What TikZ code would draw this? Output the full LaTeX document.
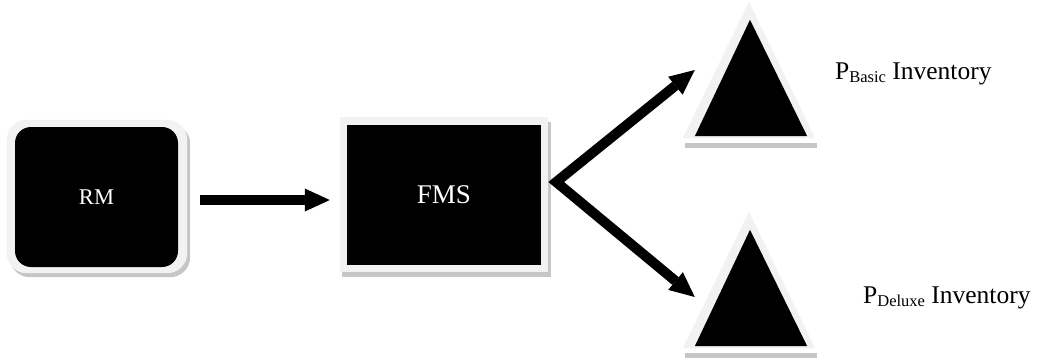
\documentclass[tikz,border=0pt]{standalone}
\usepackage{fontspec}
\setmainfont{Liberation Serif}
\usetikzlibrary{arrows.meta,calc,backgrounds}
\definecolor{lg}{HTML}{F2F2F2}
\definecolor{sh}{HTML}{C6C6C6}
\begin{document}
\begin{tikzpicture}[x=1pt,y=-1pt,
  blackbox/.style={fill=black,text=white,inner sep=0pt},
  frm/.style={fill=lg},
  shd/.style={fill=sh},
  trinode/.style={inner sep=0pt,minimum width=132pt,minimum height=136pt},
  flow/.style={line width=10pt,-{Triangle[length=25pt,width=23pt,line width=0pt]}},
  flowtwo/.style={line width=10pt,line join=miter,{Triangle[length=25pt,width=23pt,line width=0pt]}-{Triangle[length=25pt,width=23pt,line width=0pt]}},
  invtext/.style={anchor=base west,inner sep=0pt,font=\fontsize{25.5}{30}\selectfont}
]
\useasboundingbox (0,0) rectangle (1042,360);

% RM box
\node[blackbox,rounded corners=16pt,minimum width=163pt,minimum height=140pt,font=\fontsize{22.5}{26}\selectfont] (rm) at (96.5,197) {RM};
% FMS box
\node[blackbox,minimum width=194pt,minimum height=140pt,font=\fontsize{27}{30}\selectfont] (fms) at (444,195) {FMS};

\begin{pgfonlayer}{background}
  \fill[shd,rounded corners=20pt] ($(rm.north west)+(-5,-3)$) rectangle ($(rm.south east)+(12,10)$);
  \fill[frm,rounded corners=20pt] ($(rm.north west)+(-8,-7)$) rectangle ($(rm.south east)+(9,6)$);
  \fill[shd] ($(fms.north west)+(-5,-3)$) rectangle ($(fms.south east)+(10,12)$);
  \fill[frm] ($(fms.north west)+(-7,-8)$) rectangle ($(fms.south east)+(7,7)$);
\end{pgfonlayer}

% Triangles
\node[trinode] (tri1) at (749,70) {};
\node[trinode] (tri2) at (749,280) {};
\foreach \t in {tri1,tri2}{
  \fill[shd] ($(\t.south west)+(2,5)$) rectangle ($(\t.south east)+(2,10)$);
  \fill[frm] (\t.north) -- (\t.south east) -- (\t.south west) -- cycle;
  \fill[black] ($(\t.north)+(1,18)$) -- ($(\t.south east)+(-8,-2)$) -- ($(\t.south west)+(12,-2)$) -- cycle;
}

% Labels
\node[invtext] (lb1) at (835,79) {P\raisebox{-3.5pt}{\fontsize{16.5}{18}\selectfont Basic} Inventory};
\node[invtext] (lb2) at (863,303) {P\raisebox{-3.5pt}{\fontsize{16.5}{18}\selectfont Deluxe} Inventory};

% Connectors
\coordinate (v) at ($(fms.east)+(15,-13)$);
\coordinate (t1) at ($(tri1.west)+(12,0)$);
\coordinate (t2) at ($(tri2.west)+(12,17)$);
\draw[flow] ($(rm.east)+(22,3)$) -- ($(fms.west)+(-17,5)$);
\draw[flowtwo] (t1) -- (v) -- (t2);
\end{tikzpicture}
\end{document}
